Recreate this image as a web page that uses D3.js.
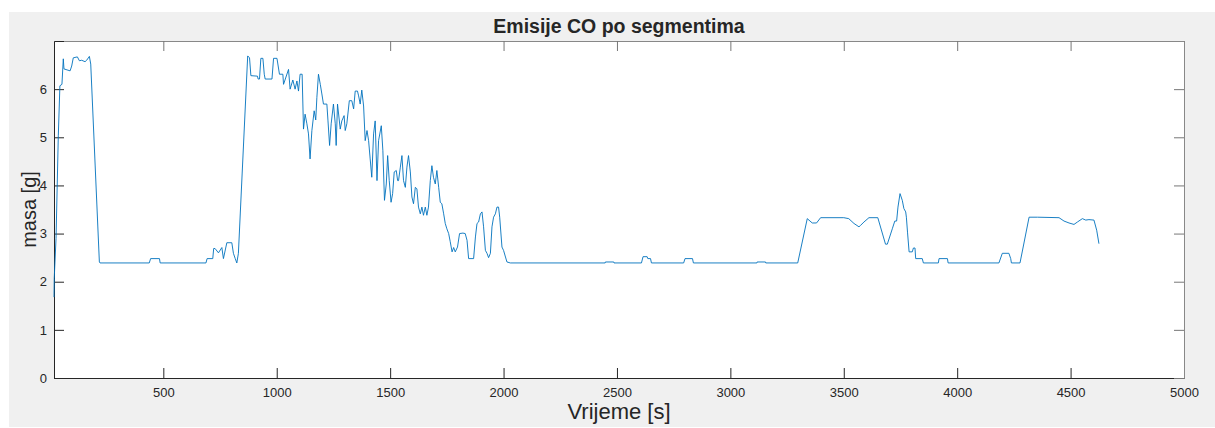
<!DOCTYPE html>
<html>
<head>
<meta charset="utf-8">
<script src="https://cdn.jsdelivr.net/npm/d3@7"></script>
<style>
  body { margin: 0; background: #fff; }
  text { font-family: "Liberation Sans", Arial, Helvetica, sans-serif; fill: #262626; }
</style>
</head>
<body>
<div id="chart"></div>
<script>
// time [s] and CO mass [g]
const time = [18, 19, 27, 37, 44, 53, 59, 62, 89, 96, 103, 121, 130, 140, 155, 162, 174, 180, 218, 221,
  438, 444, 483, 486, 688, 693, 718, 722, 728, 743, 758, 765, 780, 802, 809, 817, 824, 831,
  872, 880, 886, 915, 918, 924, 930, 939, 945, 949, 979, 986, 1001, 1012, 1027, 1030, 1052, 1059, 1071,
  1081, 1089, 1096, 1103, 1112, 1118, 1125, 1133, 1140, 1147, 1155, 1165, 1172, 1177, 1184, 1192, 1199,
  1206, 1221, 1226, 1233, 1240, 1250, 1258, 1262, 1268, 1280, 1287, 1297, 1302, 1309, 1320, 1331, 1339,
  1346, 1356, 1361, 1368, 1375, 1383, 1390, 1398, 1405, 1412, 1419, 1427, 1434, 1442, 1449, 1461, 1468,
  1475, 1483, 1489, 1496, 1504, 1511, 1518, 1527, 1533, 1537, 1545, 1552, 1559, 1567, 1574, 1581, 1589,
  1596, 1603, 1611, 1618, 1625, 1633, 1640, 1647, 1655, 1662, 1669, 1677, 1684, 1691, 1699, 1706, 1714,
  1721, 1728, 1736, 1743, 1750, 1758, 1765, 1773, 1780, 1787, 1797, 1806, 1821, 1831, 1839, 1846, 1868,
  1876, 1883, 1890, 1898, 1905, 1912, 1920, 1927, 1934, 1942, 1949, 1956, 1964, 1971, 1978, 1983, 1993,
  2000, 2015, 2030,
  2448, 2449, 2486, 2487, 2608, 2615, 2633, 2636, 2648, 2652, 2794, 2800, 2833, 2837, 3117, 3118, 3155, 3156,
  3297, 3339, 3361, 3380, 3398, 3500, 3522, 3545, 3567, 3574, 3589, 3611, 3650, 3684, 3692, 3714, 3725,
  3733, 3739, 3748, 3758, 3765, 3773, 3776, 3781, 3788, 3802, 3807, 3814, 3817, 3846, 3851, 3917, 3920,
  3957, 3960, 4184, 4199, 4228, 4236, 4239, 4277, 4317, 4354, 4449, 4471, 4493, 4515, 4530, 4552, 4567,
  4581, 4603, 4615, 4625];

const mass = [1.68, 2.07, 2.9, 5.03, 6.07, 6.1, 6.63, 6.42, 6.38, 6.48, 6.65, 6.67, 6.59, 6.6, 6.57, 6.6, 6.68, 6.52, 2.41, 2.39,
  2.39, 2.48, 2.48, 2.39, 2.39, 2.48, 2.48, 2.69, 2.69, 2.6, 2.71, 2.48, 2.81, 2.81, 2.59, 2.48, 2.39, 2.59,
  6.69, 6.65, 6.28, 6.27, 6.21, 6.21, 6.64, 6.64, 6.31, 6.21, 6.21, 6.64, 6.64, 6.31, 6.31, 6.1, 6.41, 6.0, 6.19,
  6.0, 6.17, 5.96, 6.31, 6.31, 5.17, 5.48, 5.28, 5.07, 4.55, 5.14, 5.55, 5.36, 5.83, 6.31, 6.1, 5.9,
  5.69, 5.69, 5.34, 4.83, 5.28, 5.69, 5.28, 4.83, 5.69, 5.17, 5.34, 5.45, 5.14, 5.28, 5.76, 5.76, 5.59,
  5.96, 5.96, 5.86, 5.69, 5.98, 5.65, 4.93, 5.14, 4.93, 4.55, 4.17, 5.07, 5.34, 4.1, 4.93, 5.24, 4.72,
  3.69, 4.03, 4.62, 4.1, 3.65, 3.83, 4.28, 4.31, 4.1, 4.1, 4.38, 4.62, 4.1, 3.96, 4.38, 4.62, 4.28,
  3.76, 3.62, 3.96, 3.93, 3.55, 3.41, 3.55, 3.38, 3.55, 3.38, 3.55, 4.1, 4.41, 4.17, 4.03, 4.31, 3.96,
  3.65, 3.62, 3.41, 3.21, 3.1, 3.0, 2.83, 2.62, 2.71, 2.62, 2.72, 3.0, 3.01, 3.0, 2.86, 2.48, 2.48,
  2.93, 3.21, 3.24, 3.41, 3.45, 3.14, 2.65, 2.59, 2.5, 2.59, 3.14, 3.34, 3.41, 3.55, 3.55, 3.34, 2.72,
  2.65, 2.41, 2.39,
  2.39, 2.41, 2.41, 2.39, 2.39, 2.52, 2.52, 2.48, 2.48, 2.39, 2.39, 2.48, 2.48, 2.39, 2.39, 2.41, 2.41, 2.39,
  2.39, 3.31, 3.22, 3.22, 3.33, 3.33, 3.31, 3.21, 3.14, 3.17, 3.24, 3.33, 3.33, 2.78, 2.78, 3.1, 3.26,
  3.26, 3.55, 3.83, 3.69, 3.52, 3.45, 3.34, 3.03, 2.62, 2.62, 2.7, 2.7, 2.48, 2.48, 2.39, 2.39, 2.48,
  2.48, 2.39, 2.39, 2.59, 2.59, 2.48, 2.39, 2.39, 3.34, 3.34, 3.33, 3.26, 3.22, 3.19, 3.24, 3.31, 3.28,
  3.29, 3.28, 3.07, 2.79];

const xTicks = [500, 1000, 1500, 2000, 2500, 3000, 3500, 4000, 4500, 5000];
const yTicks = [0, 1, 2, 3, 4, 5, 6];

const W = 1215, H = 428;
const margin = { top: 41, left: 54, right: 31, bottom: 50 };
const width = W - margin.left - margin.right;
const height = H - margin.top - margin.bottom;

const svg = d3.select("#chart").append("svg")
  .attr("width", W)
  .attr("height", H);

// figure background
svg.append("rect")
  .attr("x", 9).attr("y", 12)
  .attr("width", W - 9).attr("height", 415)
  .attr("fill", "#f0f0f0");

const chart = svg.append("g")
  .attr("transform", `translate(${margin.left},${margin.top})`);

chart.append("rect")
  .attr("width", width).attr("height", height)
  .attr("fill", "#fff");

const xScale = d3.scaleLinear().domain([18, 5000]).range([0, width]);
const yScale = d3.scaleLinear().domain([0, 7]).range([height, 0]);

// axes with inward ticks, MATLAB style
const xAxis = chart.append("g")
  .attr("transform", `translate(0,${height})`)
  .call(d3.axisBottom(xScale).tickValues(xTicks).tickSize(-10).tickPadding(10).tickFormat(d3.format("d")));
const xTop = chart.append("g")
  .call(d3.axisTop(xScale).tickValues(xTicks).tickSize(-10).tickFormat(""));
const yAxis = chart.append("g")
  .call(d3.axisLeft(yScale).tickValues(yTicks).tickSize(-10).tickPadding(7).tickFormat(d3.format("d")));
const yRight = chart.append("g")
  .attr("transform", `translate(${width},0)`)
  .call(d3.axisRight(yScale).tickValues(yTicks).tickSize(-10).tickFormat(""));

[xAxis, yAxis].forEach(g => {
  g.select(".domain").attr("stroke", "#262626");
  g.selectAll(".tick line").attr("stroke", "#262626");
  g.selectAll(".tick text").attr("font-size", 13).attr("fill", "#262626")
    .style("font-family", "'Liberation Sans', Arial, sans-serif");
});
[xTop, yRight].forEach(g => {
  g.select(".domain").attr("stroke", "#888");
  g.selectAll(".tick line").attr("stroke", "#777");
});

// the data line
const line = d3.line()
  .x((d, i) => xScale(time[i]))
  .y(d => yScale(d));

chart.append("path")
  .datum(mass)
  .attr("fill", "none")
  .attr("stroke", "#0072BD")
  .attr("stroke-width", 0.9)
  .attr("stroke-linejoin", "round")
  .attr("d", line);

// titles
svg.append("text")
  .attr("x", margin.left + width / 2).attr("y", 33)
  .attr("text-anchor", "middle")
  .attr("font-size", 19.5).attr("font-weight", "bold")
  .text("Emisije CO po segmentima");

svg.append("text")
  .attr("x", margin.left + width / 2).attr("y", 419)
  .attr("text-anchor", "middle")
  .attr("font-size", 22)
  .text("Vrijeme [s]");

svg.append("text")
  .attr("transform", `translate(36,${margin.top + height / 2}) rotate(-90)`)
  .attr("text-anchor", "middle")
  .attr("font-size", 20)
  .text("masa [g]");
</script>
</body>
</html>
